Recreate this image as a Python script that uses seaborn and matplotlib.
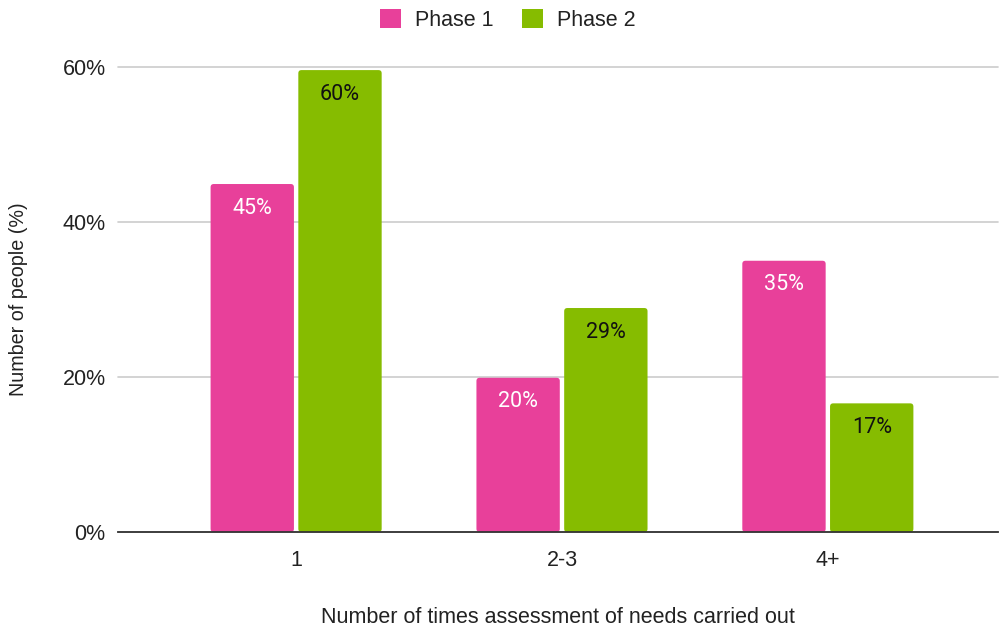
import matplotlib
matplotlib.use("Agg")
import matplotlib.pyplot as plt
import seaborn as sns
import pandas as pd
from matplotlib.patches import FancyBboxPatch
from matplotlib.ticker import FuncFormatter

categories = ["1", "2-3", "4+"]
phase1 = [44.9, 19.9, 35.0]
phase2 = [59.6, 28.9, 16.6]
series_names = ["Phase 1", "Phase 2"]
colors = ["#E8409A", "#86BC00"]
label_colors = ["white", "#111111"]

df = pd.DataFrame({
    "category": categories * 2,
    "value": phase1 + phase2,
    "series": [series_names[0]] * 3 + [series_names[1]] * 3,
})

sns.set_theme(style="white")
plt.rcParams["font.family"] = ["Liberation Sans", "DejaVu Sans"]

FS = 15.5
fig = plt.figure(figsize=(10, 6.29), dpi=100)
ax = fig.add_axes([0.118, 0.1542, 0.880, 0.7393])

sns.barplot(data=df, x="category", y="value", hue="series", order=categories,
            hue_order=series_names, palette=colors, width=0.66, gap=0.05,
            saturation=1, ax=ax, legend=False, edgecolor="none", linewidth=0)

ax.set_ylim(0, 60)
ax.set_xlim(-0.67, 2.64)
ax.set_yticks([0, 20, 40, 60])
ax.yaxis.set_major_formatter(FuncFormatter(lambda v, p: f"{v:.0f}%"))
ax.grid(axis="y", color="#CCCCCC", linewidth=1.2, clip_on=False)
ax.set_axisbelow(True)
for s in ["top", "right", "left"]:
    ax.spines[s].set_visible(False)
ax.spines["bottom"].set_color("#333333")
ax.spines["bottom"].set_linewidth(1.3)
ax.tick_params(axis="both", length=0, labelsize=FS, colors="#222222")
ax.tick_params(axis="y", pad=9)
ax.tick_params(axis="x", pad=13)
ax.set_xlabel("Number of times assessment of needs carried out", fontsize=FS,
              color="#222222", labelpad=26)
ax.set_ylabel("Number of people (%)", fontsize=14.2, color="#222222", labelpad=25)

# Slightly rounded bar corners and value labels inside each bar
for i, container in enumerate(ax.containers):
    for bar in container:
        x, y = bar.get_x(), bar.get_y()
        w, h = bar.get_width(), bar.get_height()
        bar.set_visible(False)
        rounded = FancyBboxPatch((x, y), w, h,
                                 boxstyle="round,pad=0,rounding_size=0.012",
                                 mutation_aspect=60 / 3.31 * (880 / 465),
                                 facecolor=colors[i], edgecolor="none", zorder=2)
        ax.add_patch(rounded)
    labels = [f"{v:.0f}%" for v in container.datavalues]
    ax.bar_label(container, labels=labels, label_type="edge", padding=-25,
                 color=label_colors[i], fontsize=FS, family="Roboto")

handles = [plt.Rectangle((0, 0), 1, 1, facecolor=c, edgecolor="none") for c in colors]
fig.legend(handles, series_names, loc="upper center", bbox_to_anchor=(0.508, 1.016),
           ncol=2, frameon=False, fontsize=FS, handlelength=0.95, handleheight=0.95,
           handletextpad=0.65, columnspacing=1.35, labelcolor="#222222")

fig.savefig("out.png", dpi=100)
